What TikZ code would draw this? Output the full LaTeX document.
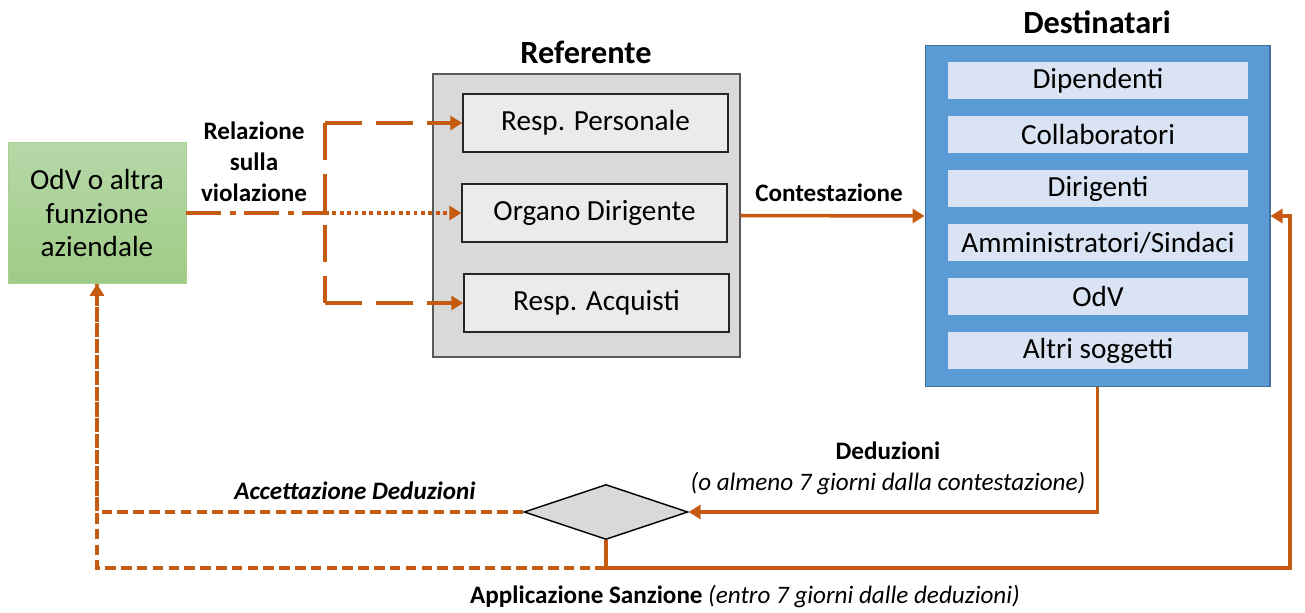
\documentclass[tikz,border=0pt]{standalone}
\usepackage{fontspec}
\setmainfont{Carlito}
\usepackage{tikz}
\usetikzlibrary{shapes.geometric,arrows.meta}
\definecolor{arancio}{HTML}{C55A11}
\definecolor{grigio}{HTML}{D9D9D9}
\definecolor{grigiochiaro}{HTML}{EBEBEB}
\definecolor{blu}{HTML}{5B9BD5}
\definecolor{bluscuro}{HTML}{41719C}
\definecolor{azzurro}{HTML}{DAE3F3}
\definecolor{verdealto}{HTML}{B6D8A8}
\definecolor{verdebasso}{HTML}{9FCB86}
\definecolor{verdebordo}{HTML}{A9D18E}
\newcommand{\fcorpo}{\fontsize{16.6}{19}\selectfont}
\newcommand{\ftitolo}{\fontsize{18.4}{21}\selectfont\bfseries}
\newcommand{\fetich}{\fontsize{14.3}{17.6}\selectfont}
\tikzstyle{odv} = [rectangle, draw=verdebordo, top color=verdealto, bottom color=verdebasso,
                   minimum width=3.56cm, minimum height=2.82cm,
                   align=center, font=\fcorpo]
\tikzstyle{gruppo} = [rectangle, draw=black!65, line width=0.8pt, fill=grigio,
                      minimum width=6.14cm, minimum height=5.66cm]
\tikzstyle{casella} = [rectangle, draw=black!85, line width=0.8pt, fill=grigiochiaro,
                       minimum width=5.3cm, minimum height=1.16cm, font=\fcorpo]
\tikzstyle{destinatari} = [rectangle, draw=bluscuro, line width=0.6pt, fill=blu,
                           minimum width=6.9cm, minimum height=6.84cm]
\tikzstyle{voce} = [rectangle, fill=azzurro, inner sep=0pt,
                    minimum width=6cm, minimum height=0.74cm, font=\fcorpo]
\tikzstyle{titolo} = [font=\ftitolo]
\tikzstyle{etichetta} = [font=\fetich, align=center]
\tikzstyle{decisione} = [diamond, draw=black, line width=0.8pt, fill=grigio, inner sep=0pt,
                         minimum width=3.28cm, minimum height=1.1cm]
\tikzstyle{freccia} = [draw=arancio, line width=2pt, -{Triangle[length=2.4mm,width=2.8mm]}]
\tikzstyle{linea} = [draw=arancio, line width=2pt]
\tikzstyle{tratteggio} = [dash pattern=on 21pt off 8pt]
\tikzstyle{trattopunto} = [dash pattern=on 20pt off 5pt on 3pt off 5pt]
\tikzstyle{puntini} = [dash pattern=on 2.2pt off 2pt]
\tikzstyle{trattini} = [line width=1.8pt, dash pattern=on 6pt off 3pt]

\begin{document}
\begin{tikzpicture}[x=0.02cm, y=-0.02cm]
  \useasboundingbox (0,0) rectangle (1305,612);
  % chi segnala
  \node [odv] (odv) at (97,213) {OdV o altra\\funzione\\aziendale};
  % referente
  \node [gruppo] (ref) at (586.5,215.5) {};
  \node [titolo] (tref) at (586,52) {Referente};
  \node [casella] (pers) at (595.5,123) {Resp. Personale};
  \node [casella] (org) at (594.5,213) {Organo Dirigente};
  \node [casella] (acq) at (596.5,303) {Resp. Acquisti};
  % destinatari
  \node [destinatari] (dest) at (1097.5,216) {};
  \node [titolo] (tdest) at (1097,22) {Destinatari};
  \foreach \nome [count=\i] in {Dipendenti, Collaboratori, Dirigenti,
      Amministratori/Sindaci, OdV, Altri soggetti}
    \node [voce] (d\i) at (1098,26.5+54*\i) {\nome};
  % decisione
  \node [decisione] (dec) at (606,512) {};
  \coordinate (snodo) at (325,213);
  \coordinate (alto) at (snodo |- pers.west);
  \coordinate (basso) at (snodo |- acq.west);
  \coordinate (app) at (606,568);
  \coordinate (rit) at (1290,568);

  \draw [linea, trattopunto] (odv.east) -- (snodo);
  \draw [freccia, puntini] (snodo) -- (org.west);
  \draw [linea, tratteggio] (alto) -- (basso);
  \draw [freccia, tratteggio] (alto) -- (pers.west);
  \draw [freccia, tratteggio] (basso) -- (acq.west);
  \draw [freccia] (ref.east) -- (dest.west);
  \draw [freccia] (dest.south) |- (dec.east);
  \draw [freccia] (dec.south) |- (rit) |- (dest.east);
  \draw [linea, trattini] (app) -| (odv.south);
  \draw [freccia, trattini] (dec.west) -| (odv.south);

  \node [etichetta, font=\fetich\bfseries] (rel) at (254,162) {Relazione\\sulla\\violazione};
  \node [etichetta, font=\fetich\bfseries] (cont) at (829,193) {Contestazione};
  \node [etichetta] (ded) at (888,468) {\textbf{Deduzioni}\\\textit{(o almeno 7 giorni dalla contestazione)}};
  \node [etichetta, font=\fetich\bfseries\itshape] (acc) at (355,491) {Accettazione Deduzioni};
  \node [etichetta] (san) at (745,596) {\textbf{Applicazione Sanzione} \textit{(entro 7 giorni dalle deduzioni)}};
\end{tikzpicture}
\end{document}
